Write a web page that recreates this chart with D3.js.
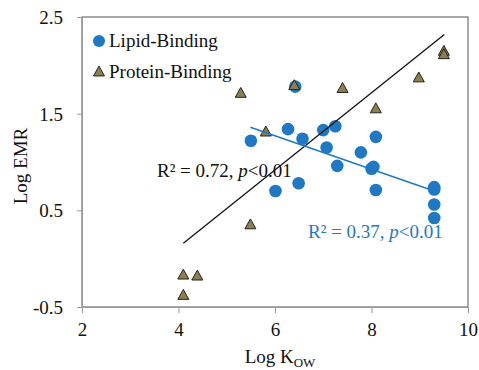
<!DOCTYPE html>
<html>
<head>
<meta charset="utf-8">
<script src="https://cdn.jsdelivr.net/npm/d3@7"></script>
<style>
  html, body { margin: 0; padding: 0; background: #fff; }
  svg text { font-family: "Liberation Serif", "DejaVu Serif", "Times New Roman", serif; }
</style>
</head>
<body>
<svg id="chart" width="479" height="370"></svg>
<script>
// ---- Data ----
const lipidX = [5.50, 6.27, 6.57, 6.42, 7.00, 7.25, 7.07, 7.29, 6.49, 6.01, 7.78, 8.00, 8.04, 8.09, 8.09, 9.30, 9.30, 9.30, 9.30];
const lipidY = [1.22, 1.34, 1.24, 1.78, 1.33, 1.37, 1.15, 0.96, 0.78, 0.70, 1.10, 0.93, 0.95, 1.26, 0.71, 0.74, 0.715, 0.56, 0.42];
const proteinX = [5.29, 6.40, 7.40, 8.09, 8.98, 9.50, 9.50, 5.81, 5.49, 4.10, 4.39, 4.10];
const proteinY = [1.71, 1.79, 1.76, 1.55, 1.87, 2.145, 2.11, 1.31, 0.35, -0.17, -0.18, -0.38];
const proteinFitX = [4.10, 9.51];
const proteinFitY = [0.16, 2.32];
const lipidFitX = [5.49, 9.30];
const lipidFitY = [1.36, 0.70];
const xTicks = [2, 4, 6, 8, 10];
const xTickLabels = ["2", "4", "6", "8", "10"];
const yTicks = [-0.5, 0.5, 1.5, 2.5];
const yTickLabels = ["-0.5", "0.5", "1.5", "2.5"];
const seriesNames = ["Lipid-Binding", "Protein-Binding"];

const blue = "#1f78c4";
const olive = "#8d7f4c";
const FONT = "'Liberation Serif', 'DejaVu Serif', 'Times New Roman', serif";

const svg = d3.select("#chart");
const L = 82, R = 468, T = 17, B = 307;
const x = d3.scaleLinear().domain([2, 10]).range([L, R]);
const y = d3.scaleLinear().domain([-0.5, 2.5]).range([B, T]);

// frame
svg.append("rect").attr("x", L).attr("y", T).attr("width", R - L).attr("height", B - T)
  .attr("fill", "none").attr("stroke", "#555").attr("stroke-width", 1);

// axes
const xAxis = d3.axisBottom(x).tickValues(xTicks).tickSize(6).tickFormat((d, i) => xTickLabels[i]);
const gx = svg.append("g").attr("transform", `translate(0,${B})`).call(xAxis);
const yAxis = d3.axisLeft(y).tickValues(yTicks).tickSize(5).tickFormat((d, i) => yTickLabels[i]);
const gy = svg.append("g").attr("transform", `translate(${L},0)`).call(yAxis);
[gx, gy].forEach(g => {
  g.attr("font-family", null).attr("font-size", null);
  g.select(".domain").attr("stroke", "#999");
  g.selectAll(".tick line").attr("stroke", "#999");
  g.selectAll(".tick text").attr("fill", "#111").style("font-size", "19px").style("font-family", FONT);
});
gx.selectAll(".tick text").attr("dy", 0).attr("y", 29);
gy.selectAll(".tick text").attr("x", -19).attr("dy", "0.35em");

// axis titles
const xt = svg.append("text").attr("x", (L + R) / 2 + 5).attr("y", 363).attr("text-anchor", "middle")
  .style("font-size", "19px").style("font-family", FONT).attr("fill", "#111");
xt.append("tspan").text("Log K");
xt.append("tspan").style("font-size", "13px").attr("dy", 4).text("OW");

svg.append("text").attr("transform", `translate(27,${(T + B) / 2 + 4}) rotate(-90)`)
  .attr("text-anchor", "middle").style("font-size", "19px").style("font-family", FONT)
  .attr("fill", "#111").text("Log EMR");

// triangle path generator
function tri(s) {
  const h = s * 0.9;
  return `M0,${-h * 0.6}L${s / 2},${h * 0.4}L${-s / 2},${h * 0.4}Z`;
}

const lipid = lipidX.map((d, i) => ({x: d, y: lipidY[i]}));
const protein = proteinX.map((d, i) => ({x: d, y: proteinY[i]}));

svg.append("g").selectAll("circle").data(lipid).join("circle")
  .attr("cx", d => x(d.x)).attr("cy", d => y(d.y)).attr("r", 6.3)
  .attr("fill", blue);

svg.append("g").selectAll("path").data(protein).join("path")
  .attr("transform", d => `translate(${x(d.x)},${y(d.y)})`)
  .attr("d", tri(11)).attr("fill", olive).attr("stroke", "#222").attr("stroke-width", 1);

// trend lines
const line = d3.line().x(d => x(d[0])).y(d => y(d[1]));
svg.append("path").attr("d", line(proteinFitX.map((d, i) => [d, proteinFitY[i]])))
  .attr("stroke", "#111").attr("stroke-width", 1.3).attr("fill", "none");
svg.append("path").attr("d", line(lipidFitX.map((d, i) => [d, lipidFitY[i]])))
  .attr("stroke", blue).attr("stroke-width", 1.5).attr("fill", "none");

// annotations
function ann(xp, yp, r2, color) {
  const t = svg.append("text").attr("x", xp).attr("y", yp)
    .style("font-size", "19px").style("font-family", FONT).attr("fill", color);
  t.append("tspan").text(`R² = ${r2}, `);
  t.append("tspan").style("font-style", "italic").text("p");
  t.append("tspan").text("<0.01");
}
ann(157, 177, "0.72", "#111");
ann(308, 238, "0.37", blue);

// legend
const lg = svg.append("g");
lg.append("circle").attr("cx", 99).attr("cy", 41).attr("r", 6).attr("fill", blue);
lg.append("text").attr("x", 109).attr("y", 47).style("font-size", "19px").style("font-family", FONT)
  .attr("fill", "#111").text(seriesNames[0]);
lg.append("path").attr("transform", "translate(99,72)").attr("d", tri(11))
  .attr("fill", olive).attr("stroke", "#222").attr("stroke-width", 1);
lg.append("text").attr("x", 109).attr("y", 78).style("font-size", "19px").style("font-family", FONT)
  .attr("fill", "#111").text(seriesNames[1]);
</script>
</body>
</html>
